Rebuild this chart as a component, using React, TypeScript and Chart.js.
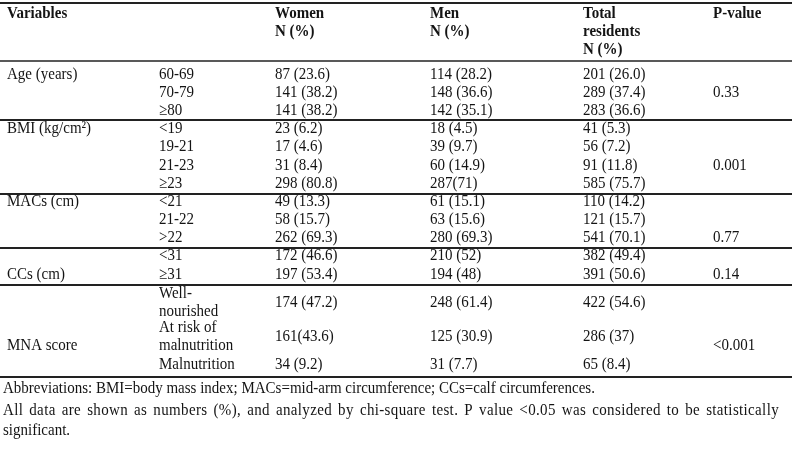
import React, { useEffect, useRef } from "react";
import { Chart, registerables } from "chart.js";

Chart.register(...registerables);

// ---------- data ----------
const headerLabels = ["Variables", "", "Women\nN (%)", "Men\nN (%)", "Total\nresidents\nN (%)", "P-value"];
const variableNames = ["Age (years)", "BMI (kg/cm²)", "MACs (cm)", "CCs (cm)", "MNA score"];
const categories = [
  "60-69", "70-79", "≥80",
  "<19", "19-21", "21-23", "≥23",
  "<21", "21-22", ">22",
  "<31", "≥31",
  "Well-\nnourished", "At risk of\nmalnutrition", "Malnutrition",
];
const women = [
  "87 (23.6)", "141 (38.2)", "141 (38.2)",
  "23 (6.2)", "17 (4.6)", "31 (8.4)", "298 (80.8)",
  "49 (13.3)", "58 (15.7)", "262 (69.3)",
  "172 (46.6)", "197 (53.4)",
  "174 (47.2)", "161(43.6)", "34 (9.2)",
];
const men = [
  "114 (28.2)", "148 (36.6)", "142 (35.1)",
  "18 (4.5)", "39 (9.7)", "60 (14.9)", "287(71)",
  "61 (15.1)", "63 (15.6)", "280 (69.3)",
  "210 (52)", "194 (48)",
  "248 (61.4)", "125 (30.9)", "31 (7.7)",
];
const totalResidents = [
  "201 (26.0)", "289 (37.4)", "283 (36.6)",
  "41 (5.3)", "56 (7.2)", "91 (11.8)", "585 (75.7)",
  "110 (14.2)", "121 (15.7)", "541 (70.1)",
  "382 (49.4)", "391 (50.6)",
  "422 (54.6)", "286 (37)", "65 (8.4)",
];
const pValues = ["0.33", "0.001", "0.77", "0.14", "<0.001"];
const footnotes = [
  "Abbreviations: BMI=body mass index; MACs=mid-arm circumference; CCs=calf circumferences.",
  "All data are shown as numbers (%), and analyzed by chi-square test. P value <0.05 was considered to be statistically",
  "significant.",
];

// ---------- layout (scale units) ----------
const colX = [7, 159, 275, 430, 583, 713];
const lineStep = 18;
const headerTop = 14;
const rowCenters = [
  75, 93, 111,
  129, 147, 166, 184,
  202, 220, 238,
  256, 275,
  302.5, 337, 365,
];
const labelRowCenters = [75, 129, 202, 275, 346];
const pRowCenters = [93, 166, 238, 275, 346];
const rules = [
  { y: 3, w: 2.2 },
  { y: 61, w: 1.6 },
  { y: 120, w: 1.8 },
  { y: 194, w: 1.8 },
  { y: 248, w: 1.8 },
  { y: 285, w: 1.8 },
  { y: 377, w: 2 },
];
const footY = [389, 411, 431];
const footX = 3;
const footJustifyRight = 779;

const FONT = "'Liberation Serif', 'Times New Roman', serif";
const TEXT = "#141414";
const VSTRETCH = 1.13;

const tablePlugin = {
  id: "tablePlugin",
  beforeDraw(chart: any) {
    const { ctx, width, height } = chart;
    ctx.save();
    ctx.fillStyle = "#ffffff";
    ctx.fillRect(0, 0, width, height);
    ctx.restore();
  },
  afterDraw(chart: any) {
    const { ctx } = chart;
    const xs = chart.scales.x;
    const ys = chart.scales.y;
    const px = (v: number) => xs.getPixelForValue(v);
    const py = (v: number) => ys.getPixelForValue(v);
    ctx.save();

    // rules
    ctx.strokeStyle = "#222";
    rules.forEach((r) => {
      ctx.lineWidth = r.w;
      ctx.beginPath();
      ctx.moveTo(px(0), py(r.y));
      ctx.lineTo(px(792), py(r.y));
      ctx.stroke();
    });

    ctx.fillStyle = TEXT;
    ctx.textBaseline = "middle";
    ctx.textAlign = "left";

    const putPx = (t: string, x: number, y: number) => {
      ctx.save();
      ctx.translate(x, y);
      ctx.scale(1, VSTRETCH);
      ctx.fillText(t, 0, 0);
      ctx.restore();
    };
    const put = (t: string, x: number, y: number) => putPx(t, px(x), py(y));

    const drawMulti = (text: string, x: number, yCenter: number) => {
      const lines = text.split("\n");
      const start = yCenter - ((lines.length - 1) * lineStep) / 2;
      lines.forEach((ln, i) => put(ln, x, start + i * lineStep));
    };

    // header
    ctx.font = `bold 15px ${FONT}`;
    headerLabels.forEach((h, c) => {
      if (!h) return;
      h.split("\n").forEach((ln, i) => put(ln, colX[c], headerTop + i * lineStep));
    });

    // body
    ctx.font = `15px ${FONT}`;
    variableNames.forEach((v, g) => put(v, colX[0], labelRowCenters[g]));
    categories.forEach((c, i) => drawMulti(c, colX[1], rowCenters[i]));
    women.forEach((t, i) => put(t, colX[2], rowCenters[i]));
    men.forEach((t, i) => put(t, colX[3], rowCenters[i]));
    totalResidents.forEach((t, i) => put(t, colX[4], rowCenters[i]));
    pValues.forEach((p, g) => put(p, colX[5], pRowCenters[g]));

    // footnotes (second line justified as in a paragraph)
    footnotes.forEach((f, i) => {
      if (i !== 1) {
        put(f, footX, footY[i]);
        return;
      }
      ctx.save();
      try {
        (ctx as any).letterSpacing = "0.35px";
      } catch (e) {}
      const words = f.split(" ");
      const wordW = words.map((w) => ctx.measureText(w).width);
      const total = wordW.reduce((a, b) => a + b, 0);
      const avail = px(footJustifyRight) - px(footX);
      const gap = (avail - total) / (words.length - 1);
      let x = px(footX);
      words.forEach((w, k) => {
        putPx(w, x, py(footY[i]));
        x += wordW[k] + gap;
      });
      ctx.restore();
    });
    ctx.restore();
  },
};

export default function App() {
  const ref = useRef<HTMLCanvasElement | null>(null);
  useEffect(() => {
    if (!ref.current) return;
    const chart = new Chart(ref.current, {
      type: "scatter",
      data: { datasets: [{ data: [] }] },
      options: {
        animation: false,
        responsive: false,
        events: [],
        layout: { padding: 0 },
        plugins: { legend: { display: false }, tooltip: { enabled: false } },
        scales: {
          x: { type: "linear", min: 0, max: 792, display: false },
          y: { type: "linear", min: 0, max: 468, reverse: true, display: false },
        },
      },
      plugins: [tablePlugin],
    });
    return () => chart.destroy();
  }, []);
  return (
    <div style={{ position: "absolute", left: 0, top: 0, width: 792, height: 468, background: "#fff" }}>
      <canvas ref={ref} width={792} height={468} style={{ display: "block" }} />
    </div>
  );
}
